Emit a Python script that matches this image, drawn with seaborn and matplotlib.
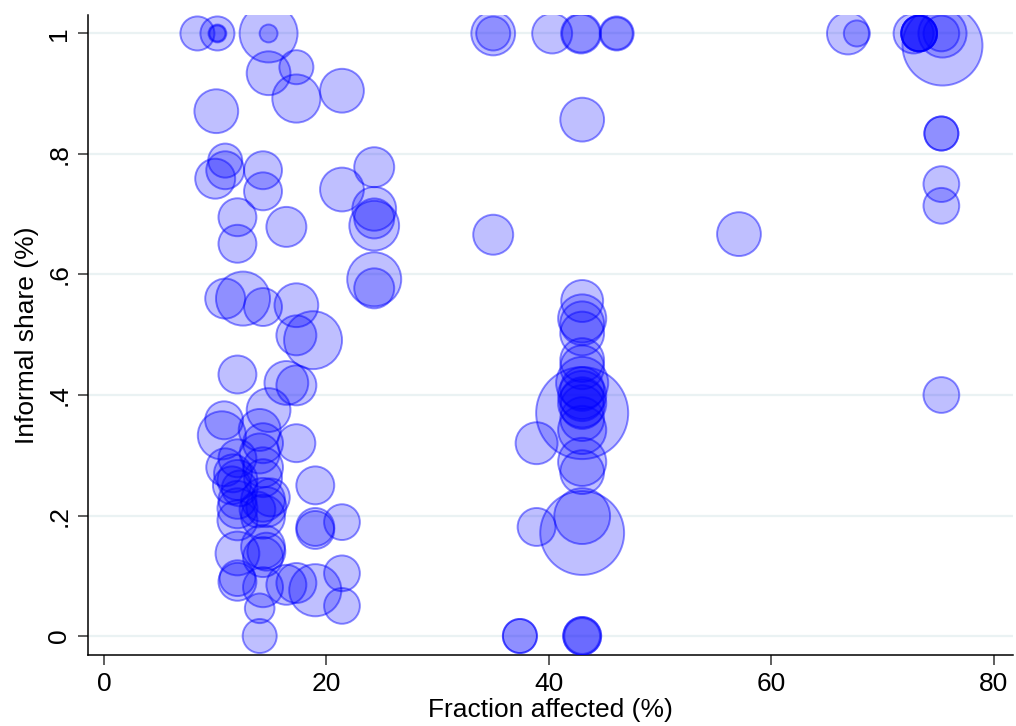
import numpy as np
import pandas as pd
import matplotlib
matplotlib.use("Agg")
import matplotlib.pyplot as plt
import seaborn as sns

# data (x = fraction affected, y = informal share, w = bubble weight)
frac = [8.4, 10.2, 10.2, 10.2, 14.8, 14.8,
        14.8, 17.3, 17.3, 21.4, 10.1,
        10.9, 10.9, 10.0, 14.3, 14.3,
        12.0, 12.0, 16.4, 21.4,
        24.3, 24.3, 24.3, 24.3, 24.3, 24.3,
        10.9, 12.5, 14.3, 17.3,
        18.8, 17.3,
        12.0, 16.4, 17.3, 14.8,
        10.8, 10.6, 14.0, 14.3, 17.3,
        10.9, 12.0, 11.6, 12.0, 14.0, 14.3, 14.3, 12.2, 11.5,
        19.0,
        12.0, 12.0, 14.3, 14.6, 12.0, 14.3, 15.0, 13.8,
        19.0, 19.0, 21.4,
        12.0, 14.3, 14.3, 14.6,
        12.0, 12.0, 14.3, 16.4, 17.3, 19.0,
        21.4, 21.4, 14.0, 14.0,
        35.0, 35.0, 40.3, 42.9, 42.9, 46.1, 46.1,
        43.0, 35.0,
        43.0, 43.0, 43.0, 43.0, 43.0, 43.0, 43.0, 43.0, 43.0, 43.0,
        43.0, 43.0, 43.0, 43.0, 43.0, 43.0, 43.0,
        38.9, 38.9, 43.0, 43.0,
        37.4, 37.4, 43.0, 43.0, 43.0,
        57.1, 66.9, 67.7, 73.3, 73.3, 73.3, 73.3, 72.8, 75.4, 75.3, 75.4,
        75.3, 75.3, 75.3, 75.3, 75.3]
share = [1.0, 1.0, 1.0, 1.0, 1.0, 1.0,
         0.934, 0.944, 0.892, 0.905, 0.871,
         0.789, 0.773, 0.759, 0.773, 0.738,
         0.695, 0.651, 0.679, 0.741,
         0.778, 0.709, 0.693, 0.681, 0.592, 0.577,
         0.56, 0.56, 0.546, 0.549,
         0.491, 0.499,
         0.434, 0.42, 0.416, 0.375,
         0.358, 0.333, 0.342, 0.32, 0.32,
         0.28, 0.295, 0.27, 0.259, 0.303, 0.28, 0.262, 0.245, 0.25,
         0.25,
         0.226, 0.212, 0.226, 0.214, 0.192, 0.198, 0.23, 0.21,
         0.176, 0.181, 0.189,
         0.137, 0.148, 0.131, 0.14,
         0.096, 0.09, 0.081, 0.085, 0.088, 0.076,
         0.104, 0.05, 0.046, 0.0,
         1.0, 1.0, 1.0, 1.0, 1.0, 1.0, 1.0,
         0.857, 0.666,
         0.556, 0.527, 0.519, 0.502, 0.458, 0.446, 0.42, 0.41, 0.40, 0.393,
         0.386, 0.38, 0.37, 0.36, 0.342, 0.289, 0.272,
         0.32, 0.181, 0.199, 0.171,
         0.0, 0.0, 0.0, 0.0, 0.0,
         0.667, 1.0, 1.0, 1.0, 1.0, 1.0, 1.0, 1.0, 1.0, 1.0, 0.98,
         0.834, 0.834, 0.75, 0.714, 0.4]
weight = [290, 290, 80, 64, 840, 80,
          480, 290, 580, 480, 480,
          290, 360, 400, 360, 360,
          360, 360, 400, 480,
          400, 480, 400, 620, 730, 400,
          400, 730, 360, 480,
          840, 400,
          360, 480, 400, 480,
          360, 580, 440, 400, 360,
          360, 360, 360, 400, 400, 400, 360, 320, 360,
          360,
          360, 400, 480, 400, 400, 480, 360, 320,
          360, 360, 320,
          480, 480, 400, 360,
          320, 360, 400, 400, 400, 680,
          320, 320, 220, 290,
          480, 290, 400, 400, 360, 290, 260,
          480, 400,
          440, 580, 480, 480, 480, 480, 680, 480, 580, 480,
          580, 480, 2120, 480, 580, 580, 480,
          440, 360, 780, 1760,
          290, 290, 360, 320, 360,
          480, 440, 170, 320, 320, 320, 320, 400, 580, 320, 1600,
          290, 290, 320, 320, 320]

yticks = [0, 0.2, 0.4, 0.6, 0.8, 1]
ytick_labels = ["0", ".2", ".4", ".6", ".8", "1"]
xticks = [0, 20, 40, 60, 80]

df = pd.DataFrame({"frac": frac, "share": share, "w": weight})

sns.set_style("white")
plt.rcParams["font.family"] = ["Liberation Sans", "DejaVu Sans"]
plt.rcParams["text.color"] = "black"
plt.rcParams["axes.labelcolor"] = "black"
plt.rcParams["xtick.color"] = "black"
plt.rcParams["ytick.color"] = "black"

fig = plt.figure(figsize=(10.16, 7.26), dpi=100)
ax = fig.add_axes([0.0866, 0.0978, 0.910, 0.881])

# marker area proportional to weight (radius in px -> points)
k = 1.44 ** 2
sns.scatterplot(data=df, x="frac", y="share", size="w",
                sizes=(k * df.w.min(), k * df.w.max()),
                size_norm=(df.w.min(), df.w.max()),
                legend=False, ax=ax, zorder=3)
pts = ax.collections[0]
pts.set_facecolor((0, 0, 1, 0.25))
pts.set_edgecolor((0, 0, 1, 0.45))
pts.set_linewidth(1.4)

ax.set_xlim(-1.44, 81.7)
ax.set_ylim(-0.0315, 1.03)
ax.set_xticks(xticks)
ax.set_yticks(yticks)
ax.set_yticklabels(ytick_labels)
for g in yticks:
    ax.axhline(g, color="#eaf2f3", lw=1.6, zorder=1)

for s in ["top", "right"]:
    ax.spines[s].set_visible(False)
for s in ["left", "bottom"]:
    ax.spines[s].set_color("black")
    ax.spines[s].set_linewidth(1.1)

ax.tick_params(axis="both", direction="out", length=7, width=1.1,
               color="#333333", labelcolor="black", labelsize=19, pad=5,
               bottom=True, left=True)
ax.tick_params(axis="y", labelrotation=90)
for lab in ax.get_yticklabels():
    lab.set_va("center")

ax.set_xlabel("Fraction affected (%)", fontsize=19, labelpad=2)
ax.set_ylabel("Informal share (%)", fontsize=19, labelpad=6)

fig.savefig("out.png", dpi=100)
